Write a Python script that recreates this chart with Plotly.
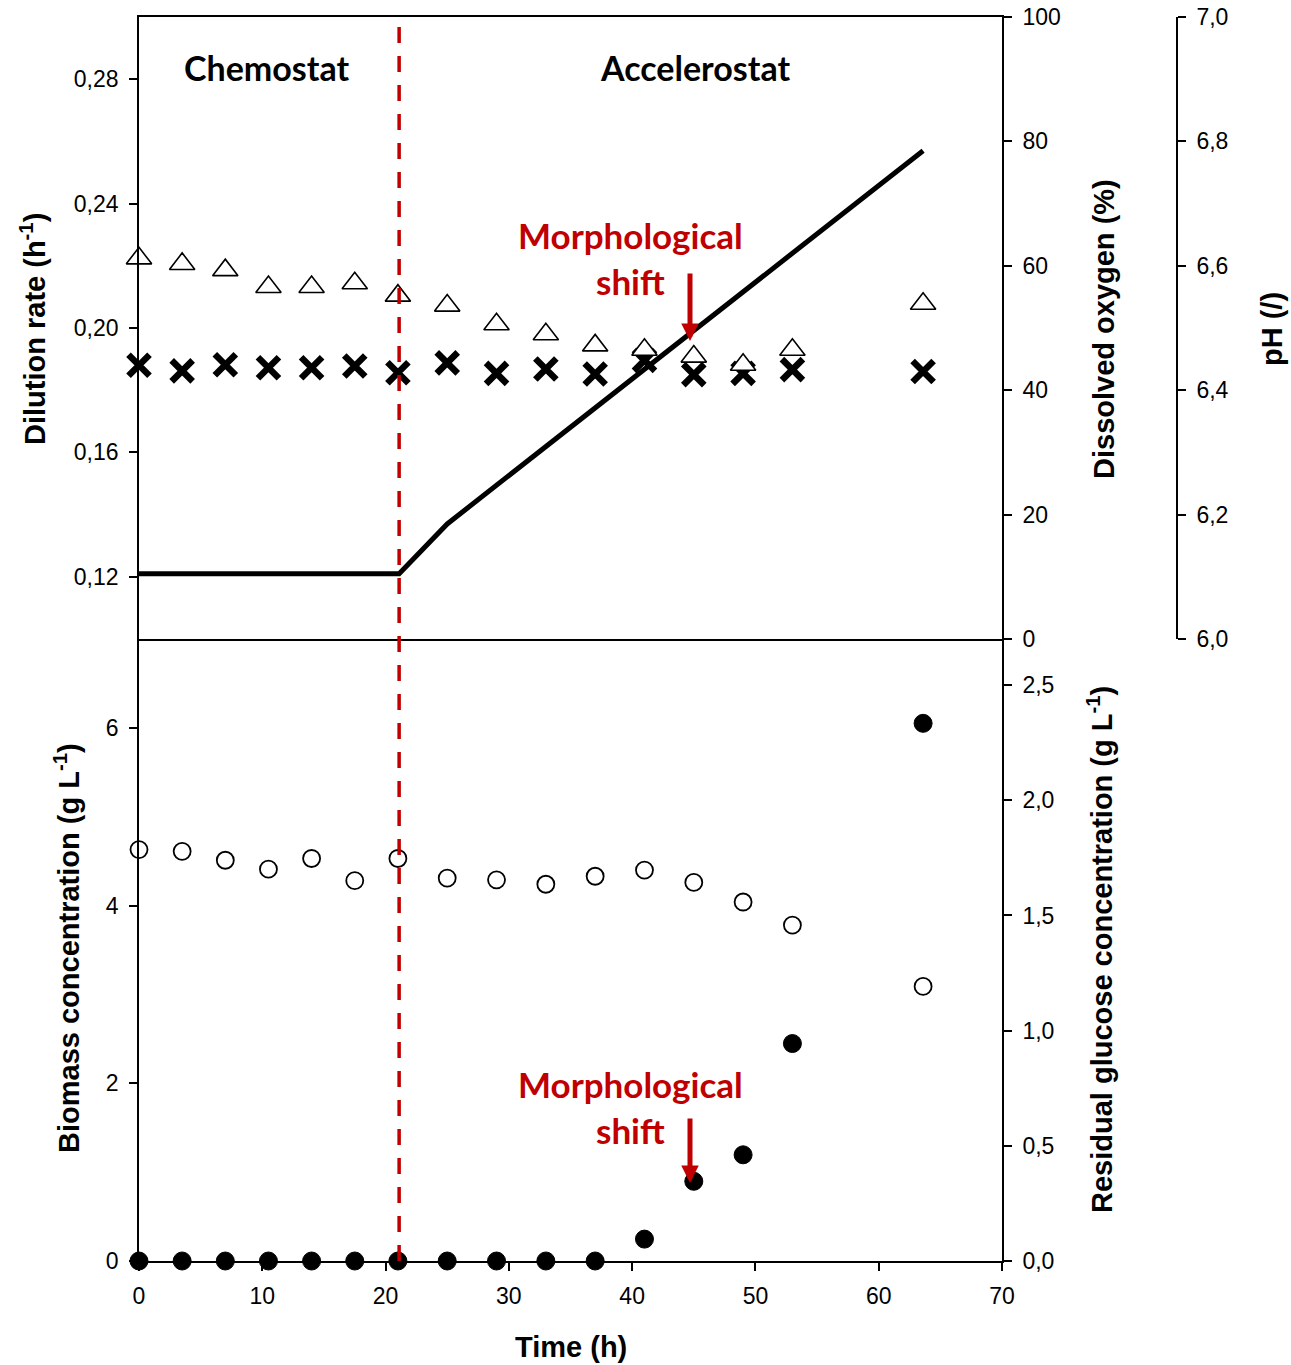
import plotly.graph_objects as go

# ---------------- data ----------------
time_h = [0, 3.5, 7, 10.5, 14, 17.5, 21, 25, 29, 33, 37, 41, 45, 49, 53, 63.6]
dissolved_oxygen = [61.2, 60.3, 59.3, 56.6, 56.6, 57.2, 55.2, 53.6, 50.6, 49.0,
                    47.2, 46.5, 45.4, 44.1, 46.5, 53.9]
ph_values = [6.440, 6.431, 6.441, 6.436, 6.436, 6.439, 6.428, 6.444, 6.427, 6.434,
             6.426, 6.448, 6.425, 6.427, 6.433, 6.430]
biomass = [4.63, 4.61, 4.51, 4.41, 4.53, 4.28, 4.53, 4.31, 4.29, 4.24,
           4.33, 4.40, 4.26, 4.04, 3.78, 3.09]
glucose = [0, 0, 0, 0, 0, 0, 0, 0, 0, 0, 0, 0.095, 0.346, 0.461, 0.944, 2.334]

dilution_time = [0, 21.1, 25, 63.6]
dilution_rate = [0.121, 0.121, 0.137, 0.257]

switch_time = 21.1

dil_ticks = [0.12, 0.16, 0.20, 0.24, 0.28]
do_ticks = [0, 20, 40, 60, 80, 100]
ph_ticks = [6.0, 6.2, 6.4, 6.6, 6.8, 7.0]
bio_ticks = [0, 2, 4, 6]
glc_ticks = [0, 0.5, 1.0, 1.5, 2.0, 2.5]
time_ticks = [0, 10, 20, 30, 40, 50, 60, 70]

# ---------------- layout geometry ----------------
W, H = 1291, 1365
ML, MT = 139, 17
PW, PH = 1061, 1244
MR = W - ML - PW
MB = H - MT - PH


def fx(px):  # pixel -> paper x
    return (px - ML) / PW


def fy(py):  # pixel -> paper y
    return (MT + PH - py) / PH


XEND = fx(1002)
RED = "#C00000"
TICKFONT = dict(family="Arial, Liberation Sans, sans-serif", size=23, color="black")
TITLEFONT = dict(family="Arial, Liberation Sans, sans-serif", size=29, color="black")
NOTEFONT = dict(family="Lato, Carlito, Calibri, sans-serif", size=34, color="black")

fig = go.Figure()

# dilution rate line
fig.add_trace(go.Scatter(x=dilution_time, y=dilution_rate, mode="lines",
                         line=dict(color="black", width=5), xaxis="x", yaxis="y",
                         showlegend=False, cliponaxis=False))
# pH crosses
fig.add_trace(go.Scatter(x=time_h, y=ph_values, mode="markers",
                         marker=dict(symbol="x-thin-open", size=21, color="black",
                                     line=dict(color="black", width=6.5)),
                         xaxis="x", yaxis="y2", showlegend=False, cliponaxis=False))
# dissolved oxygen triangles
fig.add_trace(go.Scatter(x=time_h, y=dissolved_oxygen, mode="markers",
                         marker=dict(symbol="triangle-up", size=22, color="white",
                                     line=dict(color="black", width=1.6)),
                         xaxis="x", yaxis="y3", showlegend=False, cliponaxis=False))
# biomass open circles
fig.add_trace(go.Scatter(x=time_h, y=biomass, mode="markers",
                         marker=dict(symbol="circle", size=17, color="white",
                                     line=dict(color="black", width=1.8)),
                         xaxis="x2", yaxis="y4", showlegend=False, cliponaxis=False))
# glucose filled circles
fig.add_trace(go.Scatter(x=time_h, y=glucose, mode="markers",
                         marker=dict(symbol="circle", size=18, color="black",
                                     line=dict(color="black", width=1)),
                         xaxis="x2", yaxis="y5", showlegend=False, cliponaxis=False))

axis_common = dict(showline=True, linecolor="black", linewidth=1.6, ticks="outside",
                   ticklen=8, tickwidth=1.6, tickcolor="black", showgrid=False,
                   zeroline=False, tickfont=TICKFONT, automargin=False,
                   ticklabeloverflow="allow")

fig.update_layout(
    width=W, height=H, separators=",.", autosize=False,
    margin=dict(l=ML, r=MR, t=MT, b=MB, pad=0, autoexpand=False),
    paper_bgcolor="white", plot_bgcolor="rgba(0,0,0,0)",
    xaxis=dict(domain=[0, XEND], range=[0, 70], anchor="y", showline=True,
               linecolor="black", linewidth=1.6, mirror=True, ticks="",
               showticklabels=False, showgrid=False, zeroline=False, automargin=False),
    xaxis2=dict(domain=[0, XEND], range=[0, 70], anchor="y4", tickvals=time_ticks,
                ticklabelstandoff=6, **axis_common),
    yaxis=dict(domain=[0.5, 1], range=[0.10, 0.30], anchor="x", side="left",
               tickvals=dil_ticks, tickformat=".2f", ticklabelstandoff=6, **axis_common),
    yaxis2=dict(range=[6.0, 7.0], overlaying="y", anchor="free", position=fx(1177),
                side="right", tickvals=ph_ticks, tickformat=".1f",
                ticklabelstandoff=6, **axis_common),
    yaxis3=dict(range=[0, 100], overlaying="y", anchor="x", side="right",
                tickvals=do_ticks, ticklabelstandoff=6, **axis_common),
    yaxis4=dict(domain=[0, 0.5], range=[0, 7], anchor="x2", side="left",
                tickvals=bio_ticks, ticklabelstandoff=6, **axis_common),
    yaxis5=dict(range=[0, 2.7], overlaying="y4", anchor="x2", side="right",
                tickvals=glc_ticks, tickformat=".1f", ticklabelstandoff=6, **axis_common),
)

# dashed separation line
fig.add_shape(type="line", xref="x", yref="paper", x0=switch_time, x1=switch_time,
              y0=0, y1=1, line=dict(color=RED, width=3.5, dash="16px,13px"), layer="above")

ann = []
# axis titles
ann.append(dict(text="<b>Dilution rate (h<sup>-1</sup>)</b>", x=fx(33), y=fy(329),
                textangle=-90, font=TITLEFONT))
ann.append(dict(text="<b>Dissolved oxygen (%)</b>", x=fx(1104), y=fy(329),
                textangle=-90, font=TITLEFONT))
ann.append(dict(text="<b>pH (/)</b>", x=fx(1272), y=fy(329),
                textangle=-90, font=TITLEFONT))
ann.append(dict(text="<b>Biomass concentration (g L<sup>-1</sup>)</b>", x=fx(67), y=fy(948),
                textangle=-90, font=TITLEFONT))
ann.append(dict(text="<b>Residual glucose concentration (g L<sup>-1</sup>)</b>", x=fx(1100),
                y=fy(950), textangle=-90, font=TITLEFONT))
ann.append(dict(text="<b>Time (h)</b>", x=fx(571), y=fy(1347), font=TITLEFONT))
# region labels
ann.append(dict(text="<b>Chemostat</b>", x=fx(266), y=fy(68), font=NOTEFONT))
ann.append(dict(text="<b>Accelerostat</b>", x=fx(695), y=fy(68), font=NOTEFONT))
# morphological shift labels
note_red = dict(NOTEFONT, color=RED, size=35)
for cy in (258, 1107):
    ann.append(dict(text="<b>Morphological<br>shift</b>", x=fx(630), y=fy(cy),
                    font=note_red))
# arrows
for tail, tip in ((272, 341), (1117, 1183)):
    ann.append(dict(text="", x=fx(690), y=fy(tip), showarrow=True, arrowhead=2,
                    arrowwidth=5, arrowsize=0.7, arrowcolor=RED, ax=0, ay=-(tip - tail),
                    axref="pixel", ayref="pixel"))

for a in ann:
    a.setdefault("xref", "paper")
    a.setdefault("yref", "paper")
    a.setdefault("showarrow", False)
    a.setdefault("xanchor", "center")
    a.setdefault("yanchor", "middle")
fig.update_layout(annotations=ann)

fig.write_html("out.html",
               config={"displayModeBar": False},
               post_script="document.body.style.margin='0';"
                           "document.body.style.overflow='hidden';")
